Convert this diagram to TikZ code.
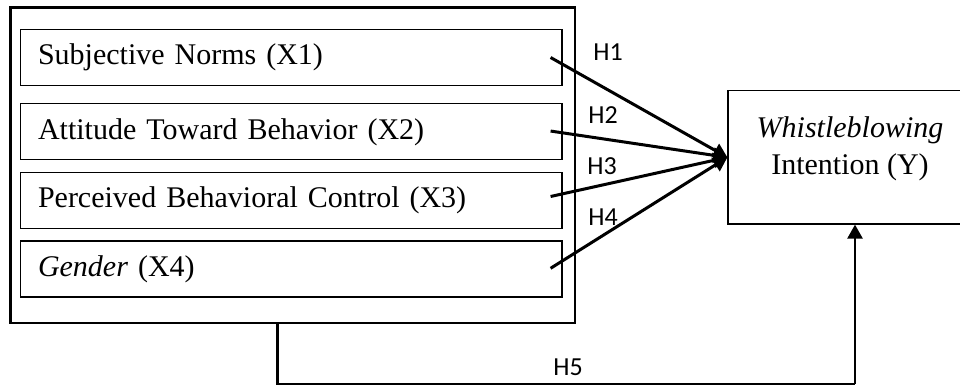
\documentclass[tikz,border=0pt]{standalone}
\usepackage{fontspec}
\setmainfont{Liberation Serif}
\newfontfamily\hfont{Carlito}
\usetikzlibrary{arrows.meta}
\begin{document}
\begin{tikzpicture}[x=1pt,y=-1pt,
  outerbox/.style={draw,line width=2.5pt,minimum width=564.3pt,minimum height=315.4pt,inner sep=0pt},
  varbox/.style={draw,line width=1.2pt,minimum width=541.7pt,minimum height=56pt,text width=506.3pt,inner xsep=17.7pt,inner ysep=0pt,align=left,font=\fontsize{30}{36}\selectfont},
  ybox/.style={draw,line width=1.2pt,minimum width=244pt,minimum height=133.3pt,inner sep=0pt},
  ytext/.style={align=center,font=\fontsize{30}{37}\selectfont,inner sep=0pt},
  hyp/.style={font=\hfont\fontsize{26}{30}\selectfont,inner sep=0pt},
  path/.style={line width=3pt,-{Triangle[length=14pt,width=15pt]}},
  link/.style={line width=2.5pt}]
\useasboundingbox (0,0) rectangle (960,387);
\node[outerbox] (outer) at (292.85,165.1) {};
\node[varbox] (x1) at (291.15,57.5) {Subjective Norms (X1)};
\node[varbox] (x2) at (291.15,131.85) {Attitude Toward Behavior (X2)};
\node[varbox] (x3) at (291.15,200.5) {Perceived Behavioral Control (X3)};
\node[varbox] (x4) at (291.15,269) {\textit{Gender} (X4)};
\node[ybox] (Y) at (850,157.35) {};
\node[ytext] (ylab) at (850,148.5) {\textit{Whistleblowing}\\Intention (Y)};
\coordinate (s1) at ([xshift=-12pt]x1.east);
\coordinate (s2) at ([xshift=-12pt,yshift=0.8pt]x2.east);
\coordinate (s3) at ([xshift=-12pt,yshift=4pt]x3.east);
\coordinate (s4) at ([xshift=-12pt,yshift=0.7pt]x4.east);
\draw[path] (s1) -- (Y.west);
\draw[path] (s2) -- (Y.west);
\draw[path] (s3) -- (Y.west);
\draw[path] (s4) -- (Y.west);
\node[hyp] (h1) at (608,52) {H1};
\node[hyp] (h2) at (603,115) {H2};
\node[hyp] (h3) at (602,166) {H3};
\node[hyp] (h4) at (603,217) {H4};
\node[hyp] (h5) at (568,367.5) {H5};
\coordinate (b1) at (277.5,384);
\coordinate (b2) at (855,384);
\draw[link] (outer.south -| b1) -- (b1) -- (b2);
\draw[link,-{Triangle[length=14pt,width=15pt]}] (b2) -- (b2 |- Y.south);
\end{tikzpicture}
\end{document}
